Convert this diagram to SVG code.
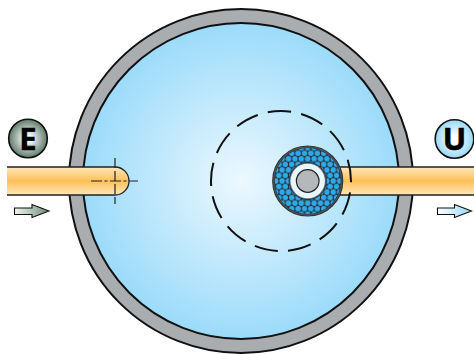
<svg xmlns="http://www.w3.org/2000/svg" width="474" height="354" viewBox="0 0 474 354">
<defs>
<radialGradient id="water" gradientUnits="userSpaceOnUse" cx="241" cy="181" r="158"><stop offset="0" stop-color="#ecf8fe"/><stop offset="1" stop-color="#9bdbfa"/></radialGradient>
<linearGradient id="pipe" x1="0" y1="0" x2="0" y2="1"><stop offset="0" stop-color="#fee8bb"/><stop offset="0.5" stop-color="#fec059"/><stop offset="1" stop-color="#fee8bb"/></linearGradient>
<radialGradient id="eBadge"><stop offset="0.15" stop-color="#ffffff"/><stop offset="1" stop-color="#5d7a68"/></radialGradient>
<radialGradient id="uBadge"><stop offset="0.15" stop-color="#ffffff"/><stop offset="1" stop-color="#97d8f9"/></radialGradient>
<linearGradient id="eArrow" x1="0" y1="0" x2="1" y2="0"><stop offset="0" stop-color="#f2f5f2"/><stop offset="1" stop-color="#6f8c78"/></linearGradient>
<linearGradient id="uArrow" x1="0" y1="0" x2="1" y2="0"><stop offset="0" stop-color="#ffffff"/><stop offset="1" stop-color="#97d8f9"/></linearGradient>
<pattern id="hex" patternUnits="userSpaceOnUse" x="304.5" y="181" width="6.4" height="11.08">
<rect width="6.4" height="11.08" fill="#26313a"/>
<g fill="#2eaaea">
<circle cx="3.2" cy="0" r="2.75"/>
<circle cx="3.2" cy="11.08" r="2.75"/>
<circle cx="0" cy="5.54" r="2.75"/>
<circle cx="6.4" cy="5.54" r="2.75"/>
</g>
</pattern>
<style>
.edge{stroke:#111;stroke-width:2;fill:none}
.pipeEdge{stroke:#222;stroke-width:1.3;fill:none}
.badge{stroke:#111;stroke-width:1.6}
.letter{font-family:"Noto Sans","DejaVu Sans",sans-serif;font-weight:700;font-size:31px;text-anchor:middle;fill:#000;stroke:#000;stroke-width:0.6}
.arrow{stroke:#111;stroke-width:1.1}
.cl{stroke:#222;stroke-width:1.2;fill:none}
</style>
</defs>
<g id="tank">
<circle cx="241" cy="181" r="172" fill="#a9adb0" stroke="#111" stroke-width="2"/>
<circle cx="241" cy="181" r="158" fill="url(#water)" stroke="#111" stroke-width="2"/>
</g>
<g id="inlet">
<path d="M7 167H115A14 14 0 0 1 115 195H7Z" fill="url(#pipe)"/>
<path class="pipeEdge" d="M7 167H115A14 14 0 0 1 115 195H7"/>
<path class="cl" stroke-dasharray="11 2.5 3 2.5" d="M91 181H138"/>
<path class="cl" stroke-dasharray="10 3" d="M115 158V204"/>
</g>
<g id="outlet">
<rect x="340" y="167" width="134" height="28" fill="url(#pipe)"/>
<path class="pipeEdge" d="M340 167H474M340 195H474"/>
</g>
<g id="core">
<circle cx="307.7" cy="181" r="35" fill="#5c6268" stroke="#333" stroke-width="1.2"/>
<circle cx="307.7" cy="181" r="33.4" fill="url(#hex)" stroke="#26313a" stroke-width="0.8"/>
<circle cx="307.7" cy="181" r="18.6" fill="#6c7278" stroke="#26313a" stroke-width="1"/>
<circle cx="307.7" cy="181" r="17.2" fill="#e8f6fd"/>
<circle cx="307.7" cy="181" r="11.3" fill="#b5b8ba" stroke="#222" stroke-width="1.2"/>
</g>
<g id="orbit">
<circle class="edge" cx="281" cy="181" r="70" stroke-dasharray="23.5 10.33" stroke-dashoffset="22.3"/>
</g>
<g id="badgeE">
<circle class="badge" cx="28" cy="138.5" r="19.3" fill="url(#eBadge)"/>
<text class="letter" x="28" y="149.5">E</text>
</g>
<g id="badgeU">
<circle class="badge" cx="454.5" cy="139" r="19.3" fill="url(#uBadge)"/>
<text class="letter" x="454.5" y="150">U</text>
</g>
<g id="arrowE">
<path class="arrow" fill="url(#eArrow)" d="M14.5 208H32V204.5L49 211L32 217.5V214.5H14.5Z"/>
</g>
<g id="arrowU">
<path class="arrow" fill="url(#uArrow)" d="M437.5 208H454.5V204.5L471.5 211L454.5 217.5V214.5H437.5Z"/>
</g>
</svg>
